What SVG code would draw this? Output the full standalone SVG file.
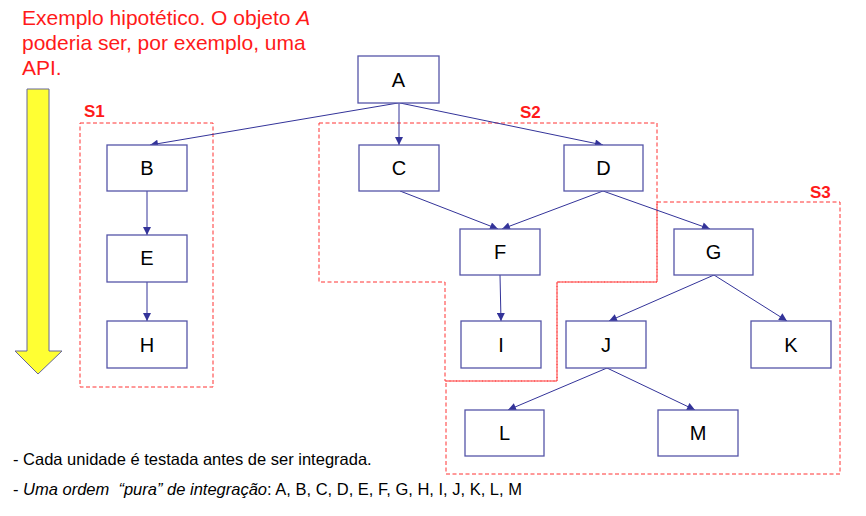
<svg xmlns="http://www.w3.org/2000/svg" width="866" height="516" viewBox="0 0 866 516">
<style>
.node rect{fill:#fff;stroke:#5555a8;stroke-width:1.3}
.node text{font-family:"Liberation Sans",Arial,sans-serif;font-size:20px;fill:#000;text-anchor:middle}
.edge{stroke:#333399;stroke-width:1;fill:none;marker-end:url(#ah)}
.grp{fill:none;stroke:#ff3333;stroke-width:1;stroke-dasharray:4,2.5}
.glab{font-family:"Liberation Sans",Arial,sans-serif;font-size:17px;font-weight:bold;fill:#ff1a1a}
.note{font-family:"Liberation Sans",Arial,sans-serif;font-size:21px;fill:#ff1a1a}
.foot{font-family:"Liberation Sans",Arial,sans-serif;font-size:16.5px;fill:#000}
</style>
<defs>
<marker id="ah" viewBox="0 0 10 10" refX="10" refY="5" markerWidth="10" markerHeight="8" markerUnits="userSpaceOnUse" orient="auto">
<path d="M0,0 L10,5 L0,10 z" fill="#333399"/>
</marker>
</defs>
<rect width="866" height="516" fill="#fff"/>
<g id="note">
<text class="note" x="22" y="25">Exemplo hipotético. O objeto <tspan font-style="italic">A</tspan></text>
<text class="note" x="22" y="50">poderia ser, por exemplo, uma</text>
<text class="note" x="22" y="75">API.</text>
</g>
<g id="order-arrow">
<path d="M27,89 L49,89 L49,351 L62,351 L38,374 L15,351 L27,351 z" fill="#ffff33" stroke="#666699" stroke-width="1"/>
</g>
<g id="groups">
<rect id="S1" class="grp" x="80" y="123" width="133" height="264"/>
<path id="S2" class="grp" d="M319,123 L657,123 L657,282 L557,282 L557,381 L445,381 L445,282 L319,282 z"/>
<path id="S3" class="grp" d="M657,202 L840,202 L840,474 L446,474 L446,381 L557,381 L557,282 L657,282 z"/>
<text class="glab" x="84" y="117">S1</text>
<text class="glab" x="520" y="118">S2</text>
<text class="glab" x="810" y="198">S3</text>
</g>
<g id="connectors">
<line class="edge" x1="398" y1="103" x2="150" y2="145"/>
<line class="edge" x1="399" y1="103" x2="399" y2="145"/>
<line class="edge" x1="400" y1="103" x2="603" y2="145"/>
<line class="edge" x1="147" y1="191" x2="147" y2="235"/>
<line class="edge" x1="147" y1="282" x2="147" y2="321"/>
<line class="edge" x1="400" y1="191" x2="498" y2="229"/>
<line class="edge" x1="603" y1="191" x2="502" y2="229"/>
<line class="edge" x1="603" y1="191" x2="710" y2="229"/>
<line class="edge" x1="500" y1="275" x2="501" y2="321"/>
<line class="edge" x1="714" y1="275" x2="609" y2="321"/>
<line class="edge" x1="714" y1="275" x2="787" y2="321"/>
<line class="edge" x1="607" y1="368" x2="508" y2="410"/>
<line class="edge" x1="607" y1="368" x2="695" y2="410"/>
</g>
<g id="A" class="node"><rect x="358" y="56" width="81" height="47"/><text x="398.5" y="87">A</text></g>
<g id="B" class="node"><rect x="107" y="145" width="80" height="46"/><text x="147" y="175">B</text></g>
<g id="C" class="node"><rect x="359" y="145" width="80" height="46"/><text x="399" y="175">C</text></g>
<g id="D" class="node"><rect x="564" y="145" width="79" height="46"/><text x="603.5" y="175">D</text></g>
<g id="E" class="node"><rect x="107" y="235" width="80" height="47"/><text x="147" y="265">E</text></g>
<g id="F" class="node"><rect x="460" y="229" width="80" height="46"/><text x="500" y="259">F</text></g>
<g id="G" class="node"><rect x="674" y="229" width="79" height="46"/><text x="713.5" y="259">G</text></g>
<g id="H" class="node"><rect x="107" y="321" width="80" height="47"/><text x="147" y="352">H</text></g>
<g id="I" class="node"><rect x="461" y="321" width="80" height="47"/><text x="501" y="352">I</text></g>
<g id="J" class="node"><rect x="566" y="321" width="80" height="47"/><text x="606" y="352">J</text></g>
<g id="K" class="node"><rect x="751" y="321" width="80" height="47"/><text x="791" y="352">K</text></g>
<g id="L" class="node"><rect x="465" y="410" width="79" height="46"/><text x="504.5" y="440">L</text></g>
<g id="M" class="node"><rect x="658" y="410" width="80" height="46"/><text x="698" y="440">M</text></g>
<g id="footer">
<text class="foot" x="13" y="465">- Cada unidade é testada antes de ser integrada.</text>
<text class="foot" x="13" y="495">- <tspan font-style="italic">Uma ordem&#160; “pura” de integração</tspan>: A, B, C, D, E, F, G, H, I, J, K, L, M</text>
</g>
</svg>
